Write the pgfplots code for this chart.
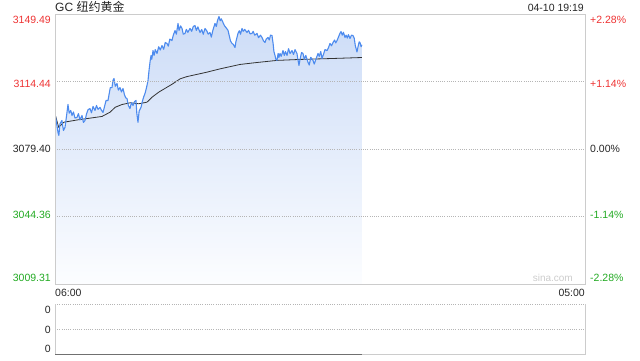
\documentclass[border=0pt]{standalone}
\usepackage{pgfplots}
\usepackage{pgfplotstable}
\pgfplotsset{compat=1.18}
\usepackage{fontspec}
\setmainfont{Liberation Sans}
\newfontfamily\cjk{Noto Sans CJK SC}
\definecolor{pline}{HTML}{4D8BEE}
\definecolor{avgline}{HTML}{333333}
\definecolor{boxgray}{HTML}{CCCCCC}
\definecolor{gridgray}{HTML}{B5B5B5}
\definecolor{upred}{HTML}{EE3333}
\definecolor{dngreen}{HTML}{22AA22}
\definecolor{filltop}{HTML}{CCDCF7}
\definecolor{fillbot}{HTML}{FCFDFF}

\pgfplotstableread{
m p
0 3097.8
4 3093.0
7.8 3088.0
10 3086.5
13 3092.5
18 3094.2
22 3089.0
26 3090.6
30 3096.5
33.8 3102.5
37 3098.0
41 3099.4
44.3 3096.8
48 3098.6
52 3095.5
57.3 3095.8
61 3097.8
65 3094.5
70.3 3096.8
74 3093.2
78.1 3094.2
82 3097.5
86 3099.8
91.1 3100.4
95 3098.2
99 3101.5
104.2 3099.4
108 3102.0
112 3100.0
117.2 3101.0
121 3099.5
125 3098.4
129 3101.5
133 3104.6
138 3104.6
141 3108.0
144 3111.3
148.4 3111.3
151 3115.0
153.6 3116.0
157 3112.0
161.4 3113.4
165 3110.0
169.2 3111.3
173 3109.0
177 3110.8
181 3107.5
184 3106.0
187.5 3105.6
191 3102.0
195.3 3100.4
199 3103.5
203.1 3102.0
207 3104.0
210.9 3104.6
213 3098.0
216.1 3093.3
219 3099.0
223.9 3101.0
228 3104.5
231 3106.5
234.3 3108.2
238 3111.0
242.2 3115.0
245 3120.5
248 3125.5
250 3127.9
252 3126.0
255.2 3130.5
258 3128.0
261 3131.0
265.6 3129.0
270 3132.5
274 3130.8
278.5 3133.1
283 3131.2
287 3134.7
291.6 3134.2
295 3132.8
299 3136.5
304.6 3135.7
308 3138.5
312.5 3140.9
316 3139.0
320.3 3144.6
323 3141.0
327 3143.3
330.7 3142.0
334 3139.0
338.5 3139.4
342 3141.5
346 3140.0
351.5 3142.0
356 3140.5
360 3143.0
364.5 3143.5
368 3141.0
372 3142.8
377.6 3139.9
382 3141.4
386 3139.0
390.6 3142.0
395 3140.8
399 3139.0
403.6 3139.9
407 3137.5
411 3141.0
416.6 3144.6
420 3143.0
423 3146.0
427 3148.2
430 3146.0
433 3147.0
437.4 3145.1
441 3143.5
445 3142.5
450.5 3141.0
454 3138.0
457 3135.5
460.9 3134.2
464 3133.8
468.7 3132.1
471 3135.0
474 3137.5
476.5 3139.4
480 3140.8
483 3139.0
486.9 3142.0
490 3140.5
494 3141.5
499.9 3139.9
504 3141.0
508 3139.2
512.9 3139.4
516 3140.5
520 3138.5
526 3139.4
530 3137.2
535 3138.5
539 3137.3
543 3135.5
546.8 3134.7
550 3136.5
554.6 3137.3
558 3136.0
561 3138.5
565 3138.3
568 3134.0
570 3130.0
572.8 3128.0
575 3126.0
578 3125.4
581 3129.0
583 3127.0
585.9 3129.0
589 3127.5
593.7 3130.5
597 3128.0
600 3130.0
604.1 3128.0
608 3131.5
612 3129.0
617.1 3130.5
621 3128.5
625 3131.0
630.1 3129.0
632 3126.5
635.3 3122.8
638 3126.0
642 3129.5
645.7 3129.0
649 3126.0
653 3128.0
658.8 3124.4
662 3123.0
666 3127.0
671.8 3125.4
675 3123.5
679 3125.8
684.8 3129.0
688 3127.5
692 3130.0
695.2 3126.4
699 3128.5
703 3131.0
708.2 3130.5
712 3132.0
716 3134.2
720 3133.0
723.9 3134.7
728 3136.0
731 3134.5
734.3 3135.7
738 3137.5
741 3139.0
744.7 3140.4
748 3138.5
751 3140.0
755.1 3137.3
758 3138.5
761 3137.0
764 3138.8
768.1 3136.8
772 3138.5
775.9 3138.3
779 3137.0
782 3133.0
786.3 3129.8
789 3132.5
792 3135.0
794.2 3134.7
797 3132.5
799 3133.5
}\price

\pgfplotstableread{
m p
0 3097.6
9.6 3090.7
22.7 3093.3
61.7 3094.6
122.4 3096.3
143.2 3098.5
157 3101.1
174.5 3102.5
196 3103.4
218 3102.9
239.5 3103.7
252.6 3106.3
270 3108.9
307 3113.3
325.5 3115.8
343.7 3117.0
395.8 3119.3
429.6 3121.0
481.7 3123.3
520.8 3124.2
578 3125.4
638 3125.9
724 3126.4
799 3126.9
}\avg

\begin{document}
\begin{tikzpicture}
\path[use as bounding box] (0pt,0pt) rectangle (640pt,360pt);
\begin{axis}[
  at={(55pt,76pt)}, anchor=south west, scale only axis,
  width=530pt, height=270pt,
  xmin=0, xmax=1380, ymin=3009.31, ymax=3149.49,
  axis line style={draw=boxgray, line width=0.8pt},
  xtick=\empty, ytick={3044.36,3079.40,3114.44}, yticklabels={},
  major tick length=0pt, axis on top,
  ymajorgrids, grid style={dash pattern=on 0.8pt off 1.4pt, gridgray, line width=0.6pt},
  clip=true]
\addplot[draw=none, top color=filltop, bottom color=fillbot] table[x=m,y=p] {\price} -- (axis cs:799,3009.31) -- (axis cs:0,3009.31) -- cycle;
\addplot[avgline, line width=0.8pt] table[x=m,y=p] {\avg};
\addplot[pline, line width=1.1pt, line join=round] table[x=m,y=p] {\price};
\end{axis}
\begin{axis}[
  at={(55pt,6pt)}, anchor=south west, scale only axis,
  width=530pt, height=50pt,
  xmin=0, xmax=1380, ymin=0, ymax=2,
  axis line style={draw=none},
  xtick=\empty, ytick=\empty, clip=false]
\draw[gridgray, dash pattern=on 0.8pt off 1.4pt, line width=0.6pt] (rel axis cs:0,1) -- (rel axis cs:1,1);
\draw[gridgray, dash pattern=on 0.8pt off 1.4pt, line width=0.6pt] (rel axis cs:0,0.5) -- (rel axis cs:1,0.5);
\draw[boxgray, line width=0.8pt] (rel axis cs:0,1) -- (rel axis cs:0,0) -- (rel axis cs:1,0) -- (rel axis cs:1,1);
\addplot[avgline!70, line width=0.8pt] coordinates {(0,0) (799,0)};
\end{axis}
\begin{scope}[every node/.style={font=\fontsize{10.5}{12}\selectfont, inner sep=0pt}]
\node[anchor=east, text=upred] at (51pt,340pt) {3149.49};
\node[anchor=east, text=upred] at (51pt,276pt) {3114.44};
\node[anchor=east, text=black!85] at (51pt,211pt) {3079.40};
\node[anchor=east, text=dngreen] at (51pt,145pt) {3044.36};
\node[anchor=east, text=dngreen] at (51pt,82pt) {3009.31};
\node[anchor=west, text=upred] at (590pt,340pt) {+2.28\%};
\node[anchor=west, text=upred] at (590pt,276pt) {+1.14\%};
\node[anchor=west, text=black!85] at (590pt,211pt) {0.00\%};
\node[anchor=west, text=dngreen] at (590pt,145pt) {-1.14\%};
\node[anchor=west, text=dngreen] at (590pt,82pt) {-2.28\%};
\node[anchor=west, text=black!85] at (55pt,67pt) {06:00};
\node[anchor=east, text=black!85] at (585pt,67pt) {05:00};
\node[anchor=east, text=black!85] at (51pt,50pt) {0};
\node[anchor=east, text=black!85] at (51pt,30pt) {0};
\node[anchor=east, text=black!85] at (51pt,11pt) {0};
\node[anchor=east, text=black!20, font=\fontsize{10}{12}\selectfont] at (573pt,82pt) {sina.com};
\node[anchor=base west, text=black!85, font=\fontsize{12}{14}\selectfont] at (55pt,349pt) {GC {\cjk 纽约黄金}};
\node[anchor=base east, text=black!85] at (584pt,349pt) {04-10 19:19};
\end{scope}
\end{tikzpicture}
\end{document}
